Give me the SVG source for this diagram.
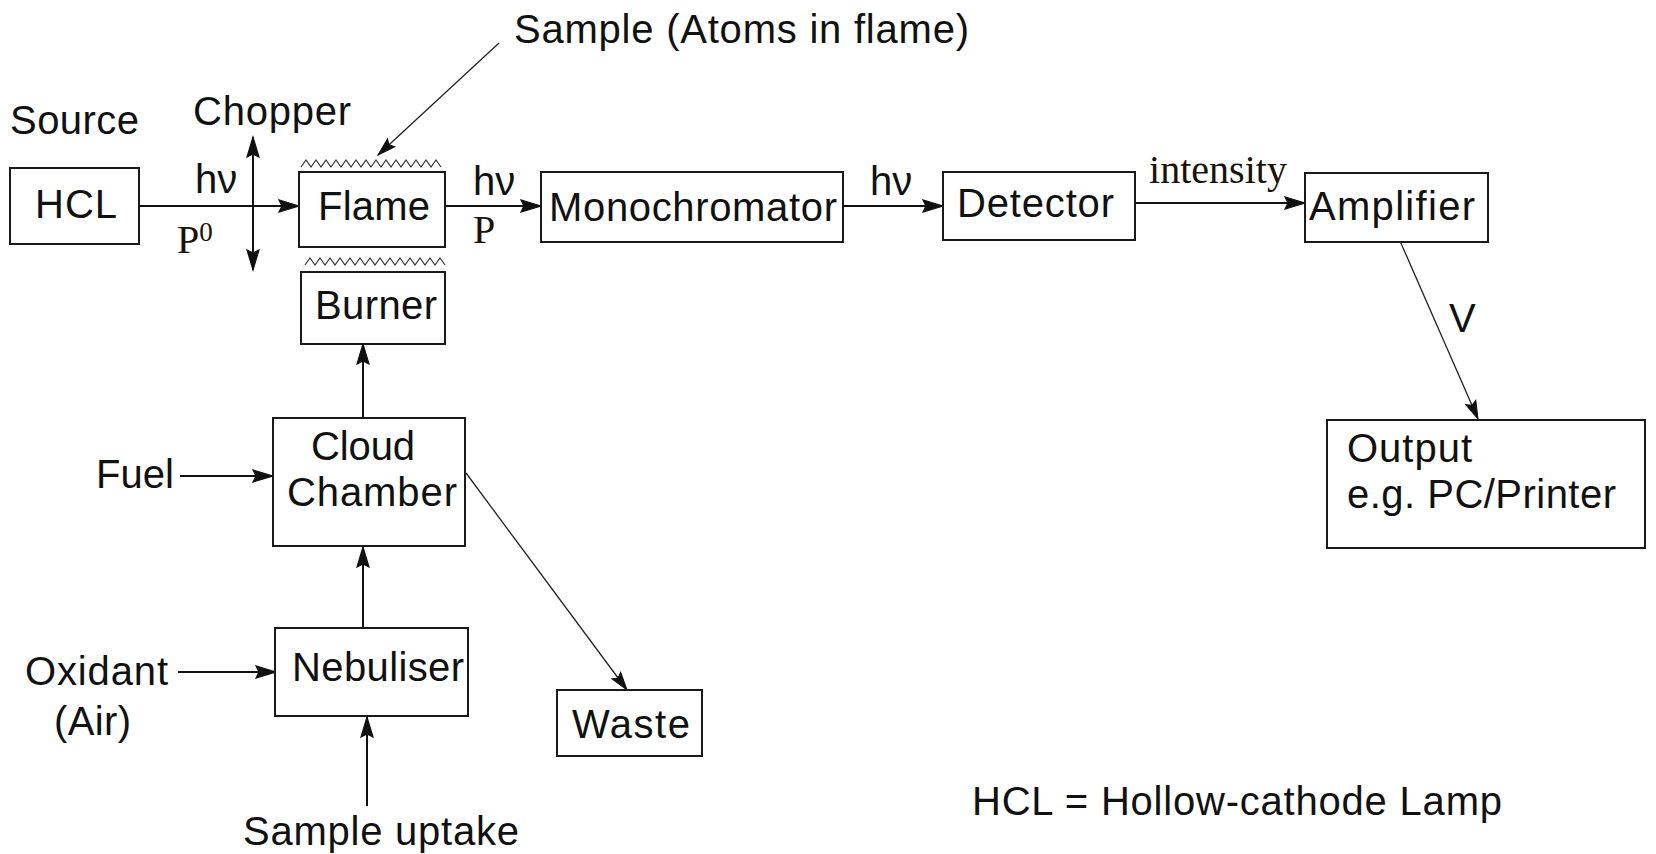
<svg xmlns="http://www.w3.org/2000/svg" width="1656" height="854" viewBox="0 0 1656 854">
<style>
.box{fill:#fff;stroke:#1a1a1a;stroke-width:2}
.ln{stroke:#111;stroke-width:2;fill:none}
.thin{stroke:#222;stroke-width:1.3;fill:none}
.zz{stroke:#333;stroke-width:1.2;fill:none}
.t{font-family:"Liberation Sans",Arial,sans-serif;font-size:40px;fill:#111}
.s{font-family:"Liberation Serif","Times New Roman",serif;font-size:40px;fill:#1a1208}
</style>
<defs>
<marker id="ah" markerUnits="userSpaceOnUse" markerWidth="24" markerHeight="16" refX="21" refY="7.5" orient="auto-start-reverse">
<path d="M21,7.5 L1,1.5 L4,7.5 L1,13.5 Z" fill="#111" stroke="#111" stroke-width="1.2"/>
</marker>
<marker id="ahs" markerUnits="userSpaceOnUse" markerWidth="22" markerHeight="16" refX="19" refY="7" orient="auto">
<path d="M19,7 L1,1.5 L4,7 L1,12.5 Z" fill="#111" stroke="#111" stroke-width="1"/>
</marker>
</defs>
<rect width="1656" height="854" fill="#fff"/>

<g id="connectors">
<line class="ln" x1="139" y1="206" x2="299" y2="206" marker-end="url(#ah)"/>
<line class="ln" x1="253" y1="137" x2="253" y2="270" marker-start="url(#ah)" marker-end="url(#ah)"/>
<line class="ln" x1="445" y1="206" x2="541" y2="206" marker-end="url(#ah)"/>
<line class="ln" x1="843" y1="206" x2="943" y2="206" marker-end="url(#ah)"/>
<line class="ln" x1="1135" y1="203" x2="1305" y2="203" marker-end="url(#ah)"/>
<line class="ln" x1="363" y1="418" x2="363" y2="344" marker-end="url(#ah)"/>
<line class="ln" x1="363" y1="628" x2="363" y2="547" marker-end="url(#ah)"/>
<line class="ln" x1="367" y1="806" x2="367" y2="717" marker-end="url(#ah)"/>
<line class="ln" x1="180" y1="476" x2="273" y2="476" marker-end="url(#ah)"/>
<line class="ln" x1="178" y1="672" x2="276" y2="672" marker-end="url(#ah)"/>
<line class="thin" x1="466" y1="473" x2="627" y2="690" marker-end="url(#ahs)"/>
<line class="thin" x1="1400" y1="241" x2="1478" y2="419" marker-end="url(#ahs)"/>
<line class="thin" x1="499" y1="43" x2="378" y2="155" marker-end="url(#ahs)"/>
</g>

<g id="flame-zigzag">
<path class="zz" d="M301,167 l5,-7 l5,7 l5,-7 l5,7 l5,-7 l5,7 l5,-7 l5,7 l5,-7 l5,7 l5,-7 l5,7 l5,-7 l5,7 l5,-7 l5,7 l5,-7 l5,7 l5,-7 l5,7 l5,-7 l5,7 l5,-7 l5,7 l5,-7 l5,7 l5,-7 l5,7"/>
<path class="zz" d="M305,265 l5,-7 l5,7 l5,-7 l5,7 l5,-7 l5,7 l5,-7 l5,7 l5,-7 l5,7 l5,-7 l5,7 l5,-7 l5,7 l5,-7 l5,7 l5,-7 l5,7 l5,-7 l5,7 l5,-7 l5,7 l5,-7 l5,7 l5,-7 l5,7 l5,-7 l5,7"/>
</g>

<g id="labels">
<text class="t" x="514" y="43" textLength="455" lengthAdjust="spacing">Sample (Atoms in flame)</text>
<text class="t" x="10" y="134" textLength="129" lengthAdjust="spacing">Source</text>
<text class="t" x="193" y="125" textLength="158" lengthAdjust="spacing">Chopper</text>
<text class="t" x="195" y="193">hν</text>
<text class="s" x="177" y="253">P<tspan font-size="27" dy="-12">0</tspan></text>
<text class="t" x="473" y="195">hν</text>
<text class="s" x="473" y="243">P</text>
<text class="t" x="870" y="195">hν</text>
<text class="s" x="1149" y="183" textLength="138" lengthAdjust="spacing">intensity</text>
<text class="t" x="1449" y="332">V</text>
<text class="t" x="96" y="488" textLength="78" lengthAdjust="spacing">Fuel</text>
<text class="t" x="25" y="685" textLength="143" lengthAdjust="spacing">Oxidant</text>
<text class="t" x="54" y="735" textLength="77" lengthAdjust="spacing">(Air)</text>
<text class="t" x="243" y="845" textLength="276" lengthAdjust="spacing">Sample uptake</text>
<text class="t" x="972" y="815" textLength="530" lengthAdjust="spacing">HCL = Hollow-cathode Lamp</text>
</g>

<g id="hcl">
<rect class="box" x="10" y="168" width="129" height="76"/>
<text class="t" x="35" y="218" textLength="82" lengthAdjust="spacing">HCL</text>
</g>
<g id="flame">
<rect class="box" x="299" y="172" width="146" height="75"/>
<text class="t" x="318" y="220" textLength="112" lengthAdjust="spacing">Flame</text>
</g>
<g id="burner">
<rect class="box" x="301" y="272" width="144" height="72"/>
<text class="t" x="315" y="319" textLength="122" lengthAdjust="spacing">Burner</text>
</g>
<g id="monochromator">
<rect class="box" x="541" y="172" width="302" height="70"/>
<text class="t" x="549" y="221" textLength="288" lengthAdjust="spacing">Monochromator</text>
</g>
<g id="detector">
<rect class="box" x="943" y="172" width="192" height="68"/>
<text class="t" x="957" y="217" textLength="157" lengthAdjust="spacing">Detector</text>
</g>
<g id="amplifier">
<rect class="box" x="1305" y="173" width="183" height="69"/>
<text class="t" x="1309" y="220" textLength="166" lengthAdjust="spacing">Amplifier</text>
</g>
<g id="output">
<rect class="box" x="1327" y="420" width="318" height="128"/>
<text class="t" x="1347" y="462" textLength="125" lengthAdjust="spacing">Output</text>
<text class="t" x="1347" y="508" textLength="269" lengthAdjust="spacing">e.g. PC/Printer</text>
</g>
<g id="cloud-chamber">
<rect class="box" x="273" y="418" width="192" height="128"/>
<text class="t" x="311" y="460" textLength="104" lengthAdjust="spacing">Cloud</text>
<text class="t" x="287" y="506" textLength="170" lengthAdjust="spacing">Chamber</text>
</g>
<g id="nebuliser">
<rect class="box" x="275" y="628" width="193" height="88"/>
<text class="t" x="292" y="681" textLength="172" lengthAdjust="spacing">Nebuliser</text>
</g>
<g id="waste">
<rect class="box" x="557" y="690" width="145" height="66"/>
<text class="t" x="572" y="738" textLength="118" lengthAdjust="spacing">Waste</text>
</g>
</svg>
